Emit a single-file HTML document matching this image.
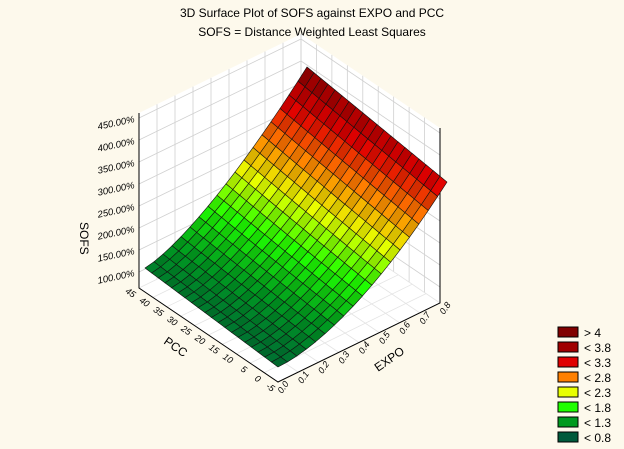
<!DOCTYPE html>
<html><head><meta charset="utf-8"><style>
html,body{margin:0;padding:0;background:#fdf9ec;}
svg{display:block;font-family:"Liberation Sans",sans-serif;}
</style></head><body>
<svg id="s" width="624" height="449" viewBox="0 0 624 449" xmlns="http://www.w3.org/2000/svg">
<rect width="624" height="449" fill="#fdf9ec"/>
<text x="312" y="17" font-size="12" text-anchor="middle">3D Surface Plot of SOFS against EXPO and PCC</text>
<text x="312" y="36" font-size="12" text-anchor="middle">SOFS = Distance Weighted Least Squares</text>
<g id="g"></g>
<g font-size="12">
<rect x="558" y="327" width="20" height="10" fill="#800000" stroke="#000" stroke-width="1"/><text x="584" y="337">&gt; 4</text>
<rect x="558" y="342" width="20" height="10" fill="#a00000" stroke="#000"/><text x="584" y="352">&lt; 3.8</text>
<rect x="558" y="357" width="20" height="10" fill="#e00000" stroke="#000"/><text x="584" y="367">&lt; 3.3</text>
<rect x="558" y="372" width="20" height="10" fill="#ff8000" stroke="#000"/><text x="584" y="382">&lt; 2.8</text>
<rect x="558" y="387" width="20" height="10" fill="#e8ff00" stroke="#000"/><text x="584" y="397">&lt; 2.3</text>
<rect x="558" y="402" width="20" height="10" fill="#20ff00" stroke="#000"/><text x="584" y="412">&lt; 1.8</text>
<rect x="558" y="417" width="20" height="10" fill="#009a20" stroke="#000"/><text x="584" y="427">&lt; 1.3</text>
<rect x="558" y="432" width="20" height="10" fill="#005a3c" stroke="#000"/><text x="584" y="442">&lt; 0.8</text>
</g>
</svg>
<script>
var g=document.getElementById('g'),h='';
var F=[278,382],R=[440,303],L=[139,288],B=[R[0]+L[0]-F[0],R[1]+L[1]-F[1]];
function fl(u,v){return [F[0]+u*(R[0]-F[0])+v*(L[0]-F[0]),F[1]+u*(R[1]-F[1])+v*(L[1]-F[1])];}
function fu(u,v){var e=1.75-0.3*v;return Math.pow(u,e);}
function ht(u,v){return 15+5*v+(106+16*v)*fu(u,v);}
function P(u,v){var p=fl(u,v),z=ht(u,v);return [p[0]+7*u+6*v-7*u*v,p[1]-z];}
var H=175;
h+='<polygon points="'+L+' '+B+' '+[B[0],B[1]-H]+' '+[L[0],L[1]-H]+'" fill="#fff"/>';
h+='<polygon points="'+B+' '+R+' '+[R[0],R[1]-H]+' '+[B[0],B[1]-H]+'" fill="#fff"/>';
h+='<polygon points="'+F+' '+R+' '+B+' '+L+'" fill="#fff"/>';
var gc='#d0d0d0';
for(var k=0;k<8;k++){var z=16+22*k;
h+='<polyline points="'+[L[0],L[1]-z]+' '+[B[0],B[1]-z]+' '+[R[0],R[1]-z]+'" fill="none" stroke="'+gc+'" stroke-width="0.8"/>';
h+='<text font-size="9.5" font-style="italic" text-anchor="end" transform="translate(135,'+(L[1]-z+4)+') rotate(-12)">'+(100+50*k)+'.00%</text>';}
for(var i=0;i<=9;i++){var t=i/9;
var a=[L[0]+t*(B[0]-L[0]),L[1]+t*(B[1]-L[1])];
h+='<line x1="'+a[0]+'" y1="'+a[1]+'" x2="'+a[0]+'" y2="'+(a[1]-H)+'" stroke="'+gc+'" stroke-width="0.8"/>';
var b=[B[0]+t*(R[0]-B[0]),B[1]+t*(R[1]-B[1])];
h+='<line x1="'+b[0]+'" y1="'+b[1]+'" x2="'+b[0]+'" y2="'+(b[1]-H)+'" stroke="'+gc+'" stroke-width="0.8"/>';}
for(var i=0;i<=8;i++){var t=i/8;var a=fl(t,0),b=fl(t,1);
h+='<line x1="'+a[0]+'" y1="'+a[1]+'" x2="'+b[0]+'" y2="'+b[1]+'" stroke="#e4e4e4" stroke-width="0.8"/>';}
for(var i=0;i<=10;i++){var t=i/10;var a=fl(0,t),b=fl(1,t);
h+='<line x1="'+a[0]+'" y1="'+a[1]+'" x2="'+b[0]+'" y2="'+b[1]+'" stroke="#e4e4e4" stroke-width="0.8"/>';}
h+='<polyline points="'+[L[0],L[1]-H]+' '+L+' '+F+' '+R+' '+[R[0],R[1]-H]+'" fill="none" stroke="#000" stroke-width="1"/>';
var cs=[[0.8,[0,90,60]],[1.3,[0,154,32]],[1.8,[32,255,0]],[2.3,[232,255,0]],[2.8,[255,128,0]],[3.3,[224,0,0]],[3.8,[144,0,0]],[4.2,[110,0,0]]];
function col(z,s){var c;if(z<=cs[0][0])c=cs[0][1];else{c=cs[cs.length-1][1];for(var i=1;i<cs.length;i++){if(z<=cs[i][0]){var t=(z-cs[i-1][0])/(cs[i][0]-cs[i-1][0]);var a=cs[i-1][1],b=cs[i][1];c=[0,1,2].map(function(j){return a[j]+t*(b[j]-a[j])});break;}}}
return 'rgb('+c.map(function(x){return Math.round(x*s)})+')';}
var NU=18,NV=20,cells=[];
for(var i=0;i<NU;i++)for(var j=0;j<NV;j++)cells.push([i,j]);
cells.sort(function(a,b){return (b[0]/NU+b[1]/NV)-(a[0]/NU+a[1]/NV);});
cells.forEach(function(c){var u0=c[0]/NU,u1=(c[0]+1)/NU,v0=c[1]/NV,v1=(c[1]+1)/NV;
var zz=(ht(u0,v0)+ht(u1,v0)+ht(u0,v1)+ht(u1,v1))/4;var z=0.64+zz*0.0227;
var s=0.9+0.1*((c[0]+c[1])%2);
h+='<polygon points="'+P(u0,v0)+' '+P(u1,v0)+' '+P(u1,v1)+' '+P(u0,v1)+'" fill="'+col(z,s)+'" stroke="#111" stroke-width="0.6"/>';});
for(var k=0;k<=10;k++){var t=k/10;var p=fl(0,t);var lab=-5+5*k;
h+='<text font-size="9" font-style="italic" text-anchor="end" transform="translate('+(p[0]-6)+','+(p[1]+10)+') rotate(35)">'+lab+'</text>';}
for(var k=0;k<=8;k++){var t=k/8;var p=fl(t,0);
h+='<text font-size="9" font-style="italic" transform="translate('+(p[0]+4)+','+(p[1]+12)+') rotate(-55)">0.'+k+'</text>';}
h+='<text font-size="12" transform="translate(163,343) rotate(35)">PCC</text>';
h+='<text font-size="12" transform="translate(378,372) rotate(-35)">EXPO</text>';
h+='<text font-size="12" transform="translate(80,222) rotate(90)">SOFS</text>';
g.innerHTML=h;
</script>
</body></html>
